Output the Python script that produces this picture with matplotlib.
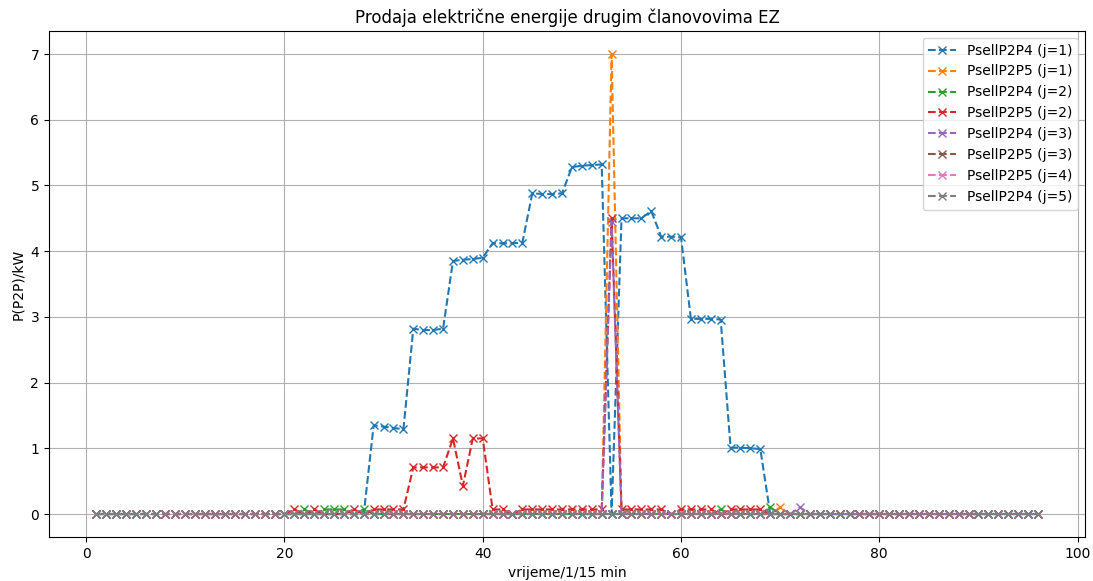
import numpy as np
import matplotlib.pyplot as plt

#%%
# time steps (15 min intervals over one day)
t = np.arange(1, 97)

# non-zero points, everything else is 0
p2p4_j1 = {29: 1.35, 30: 1.33, 31: 1.31, 32: 1.29,
           33: 2.82, 34: 2.80, 35: 2.80, 36: 2.82,
           37: 3.85, 38: 3.87, 39: 3.88, 40: 3.90,
           41: 4.12, 42: 4.12, 43: 4.12, 44: 4.13,
           45: 4.88, 46: 4.87, 47: 4.87, 48: 4.88,
           49: 5.28, 50: 5.30, 51: 5.31, 52: 5.32,
           54: 4.50, 55: 4.50, 56: 4.50, 57: 4.61,
           58: 4.22, 59: 4.22, 60: 4.21,
           61: 2.97, 62: 2.97, 63: 2.97, 64: 2.96,
           65: 1.01, 66: 1.01, 67: 1.00, 68: 0.99}
p2p5_j1 = {53: 7.0, 70: 0.10}
p2p4_j2 = {22: 0.07, 24: 0.07, 25: 0.07, 26: 0.07, 28: 0.07, 64: 0.07, 69: 0.10}
p2p5_j2 = {21: 0.07, 23: 0.07, 27: 0.07, 29: 0.07, 30: 0.07, 31: 0.07, 32: 0.07,
           33: 0.71, 34: 0.71, 35: 0.71, 36: 0.71, 37: 1.15, 38: 0.43, 39: 1.15, 40: 1.15,
           41: 0.07, 42: 0.07, 44: 0.07, 45: 0.07, 46: 0.07, 47: 0.07, 48: 0.07,
           49: 0.07, 50: 0.07, 51: 0.07, 52: 0.07, 53: 4.50,
           54: 0.07, 55: 0.07, 56: 0.07, 57: 0.07, 58: 0.07,
           60: 0.07, 61: 0.07, 62: 0.07, 63: 0.07,
           65: 0.07, 66: 0.07, 67: 0.07, 68: 0.07}
p2p4_j3 = {53: 4.45, 72: 0.10}
p2p5_j3 = {}
p2p5_j4 = {}
p2p4_j5 = {}

series = [(p2p4_j1, "PsellP2P4 (j=1)"),
          (p2p5_j1, "PsellP2P5 (j=1)"),
          (p2p4_j2, "PsellP2P4 (j=2)"),
          (p2p5_j2, "PsellP2P5 (j=2)"),
          (p2p4_j3, "PsellP2P4 (j=3)"),
          (p2p5_j3, "PsellP2P5 (j=3)"),
          (p2p5_j4, "PsellP2P5 (j=4)"),
          (p2p4_j5, "PsellP2P4 (j=5)")]

#%%
fig = plt.figure(figsize=(10.93, 5.81), dpi=100)
ax = fig.add_axes([0.0448, 0.0757, 0.9479, 0.8709])

for pts, lab in series:
  y = np.zeros(len(t))
  for k, v in pts.items():
    y[k-1] = v
  ax.plot(t, y, '--x', label=lab)

ax.set_title("Prodaja električne energije drugim članovovima EZ")
ax.set_xlabel("vrijeme/1/15 min")
ax.set_ylabel("P(P2P)/kW")
ax.legend(loc='upper right')
ax.grid()
fig.savefig("out.png", dpi=100)
